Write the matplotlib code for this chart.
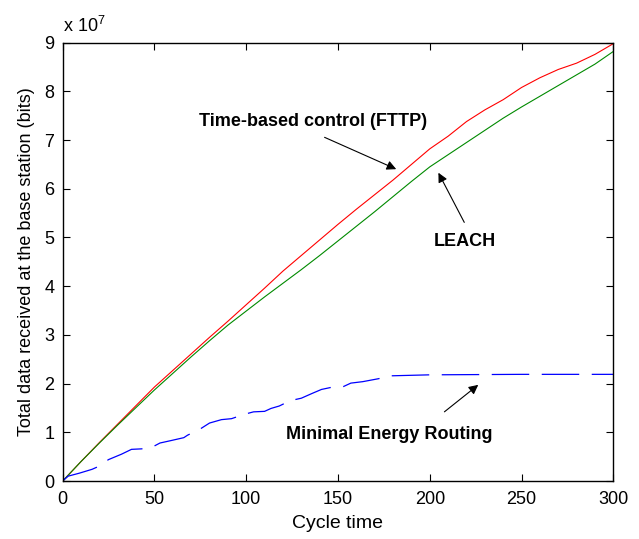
import numpy as np
import matplotlib
matplotlib.use('Agg')
import matplotlib.pyplot as plt

plt.rcParams['font.family'] = ['Liberation Sans', 'DejaVu Sans']
plt.rcParams['mathtext.fontset'] = 'custom'
plt.rcParams['mathtext.rm'] = 'Liberation Sans'
plt.rcParams['lines.scale_dashes'] = False

# cycle time
cycles = [0, 10, 20, 30, 40, 50, 60, 70, 80, 90, 100, 110, 120, 130, 140, 150,
          160, 170, 180, 190, 200, 210, 220, 230, 240, 250, 260, 270, 280, 290, 300]

# total data (x 1e7 bits)
fttp = [0, 0.40, 0.79, 1.17, 1.55, 1.93, 2.27, 2.61, 2.95, 3.28, 3.62, 3.96, 4.31,
        4.63, 4.95, 5.27, 5.58, 5.88, 6.18, 6.50, 6.82, 7.08, 7.38, 7.62, 7.83,
        8.08, 8.28, 8.45, 8.58, 8.76, 8.98]
leach = [0, 0.40, 0.78, 1.15, 1.51, 1.87, 2.21, 2.55, 2.88, 3.20, 3.49, 3.78, 4.06,
         4.34, 4.63, 4.93, 5.23, 5.53, 5.84, 6.15, 6.45, 6.70, 6.95, 7.20, 7.45,
         7.68, 7.90, 8.12, 8.34, 8.56, 8.82]

mer_cycles = [0, 3, 9, 16, 19, 25, 32, 37.5, 43, 49, 53, 59, 66, 68, 75, 80, 86.5,
              92, 99, 104, 110, 113.5, 118, 124, 130, 136, 141, 146, 153, 157,
              163.5, 172, 179, 200, 250, 300]
mer = [0, 0.10, 0.16, 0.24, 0.29, 0.44, 0.55, 0.65, 0.66, 0.70, 0.78, 0.83, 0.89,
       0.94, 1.07, 1.19, 1.26, 1.28, 1.37, 1.42, 1.43, 1.49, 1.54, 1.65, 1.70,
       1.80, 1.88, 1.92, 1.94, 2.01, 2.04, 2.10, 2.16, 2.18, 2.19, 2.19]

scale = 1e7

fig = plt.figure(figsize=(6.39, 5.39), dpi=100)
ax = fig.add_axes([0.0981, 0.1076, 0.8617, 0.8132])

ax.plot(cycles, np.array(fttp) * scale, color='#ff0000', lw=0.8)
ax.plot(cycles, np.array(leach) * scale, color='#008a00', lw=0.8)
line, = ax.plot(mer_cycles, np.array(mer) * scale, color='#0000ff', lw=0.9)
line.set_dashes((27, 9))

ax.set_xlim(0, 300)
ax.set_ylim(0, 9e7)
ax.set_xticks(np.arange(0, 301, 50))
ax.set_yticks(np.arange(0, 9.1, 1) * scale)
ax.set_yticklabels([str(i) for i in range(10)])
ax.tick_params(direction='in', top=True, right=True, length=5, labelsize=13)
ax.tick_params(axis='x', pad=7)
ax.tick_params(axis='y', pad=6)
for s in ax.spines.values():
    s.set_linewidth(1.0)

ax.set_xlabel('Cycle time', fontsize=14, labelpad=5)
ax.set_ylabel('Total data received at the base station (bits)', fontsize=13, labelpad=7)
ax.text(0.0, 1.015, r'x 10$^{\mathregular{7}}$', transform=ax.transAxes,
        fontsize=13, ha='left', va='bottom')

arrow = dict(arrowstyle='-|>', color='black', lw=0.8, mutation_scale=14)
ax.text(136.3, 7.39 * scale, 'Time-based control (FTTP)', fontsize=13,
        fontweight='bold', ha='center', va='center')
ax.annotate('', xy=(183.1, 6.38 * scale), xytext=(141.3, 7.08 * scale),
            arrowprops=arrow)
ax.text(219, 4.92 * scale, 'LEACH', fontsize=13, fontweight='bold',
        ha='center', va='center')
ax.annotate('', xy=(204, 6.38 * scale), xytext=(219.5, 5.26 * scale),
            arrowprops=arrow)
ax.text(178, 0.96 * scale, 'Minimal Energy Routing', fontsize=13,
        fontweight='bold', ha='center', va='center')
ax.annotate('', xy=(227.6, 2.01 * scale), xytext=(206.8, 1.385 * scale),
            arrowprops=arrow)

fig.savefig('out.png', dpi=100)
